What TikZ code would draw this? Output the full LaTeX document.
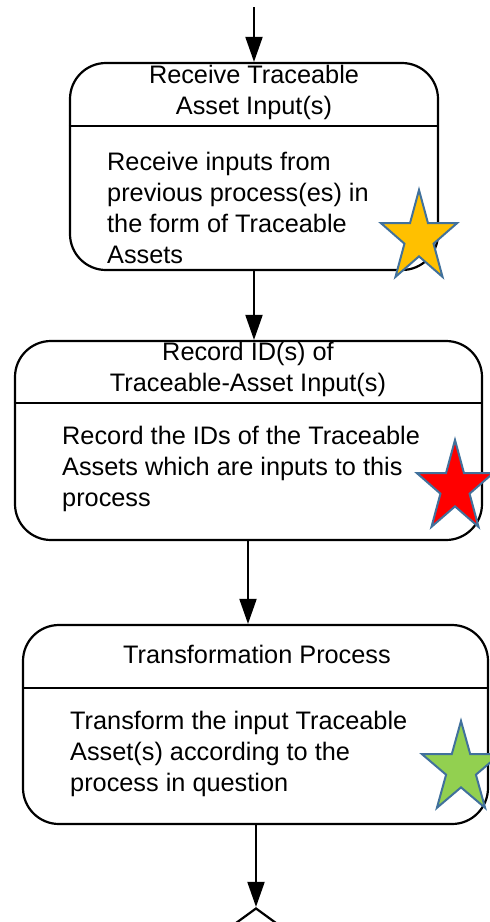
\documentclass[tikz,border=0pt]{standalone}
\usepackage{fontspec}
\setmainfont{Liberation Sans}
\usetikzlibrary{arrows.meta,shapes.geometric}
\definecolor{starblue}{HTML}{41719C}
\definecolor{starorange}{HTML}{FFC000}
\definecolor{starred}{HTML}{FF0000}
\definecolor{stargreen}{HTML}{92D050}
\newcommand\mkstar[4]{% center, rx, ry, fill
  \draw[starline, fill=#4, shift={#1}, xscale=#2/40, yscale=#3/40]
  (90:40) -- (126:15.3) -- (162:40) -- (198:15.3) -- (234:40) -- (270:15.3)
  -- (306:40) -- (342:15.3) -- (18:40) -- (54:15.3) -- cycle;}
\begin{document}
\begin{tikzpicture}[x=1pt,y=1pt,
  procbox/.style={draw, line width=2.2pt, rounded corners=36pt, inner sep=0pt},
  divline/.style={line width=2.2pt},
  titletext/.style={align=center, inner sep=0pt, font=\fontsize{25.3}{31}\selectfont},
  bodytext/.style={align=left, inner sep=0pt, anchor=west, font=\fontsize{25.3}{31}\selectfont},
  arr/.style={line width=2pt, -{Triangle[length=25pt,width=17pt]}},
  starline/.style={draw=starblue, line width=2pt, line join=miter}]
\useasboundingbox (0,0) rectangle (490,-922);
\clip (0,0) rectangle (490,-922);
% box 1
\node[procbox, minimum width=368pt, minimum height=207pt] (b1) at (254,-166.5) {};
\draw[divline] (b1.west |- 0,-126) -- (b1.east |- 0,-126);
\node[titletext] (t1) at (254,-92) {Receive Traceable\\Asset Input(s)};
\node[bodytext] (d1) at (107,-208) {Receive inputs from\\previous process(es) in\\the form of Traceable\\Assets};
% box 2
\node[procbox, minimum width=467pt, minimum height=199pt] (b2) at (248.5,-440.5) {};
\draw[divline] (b2.west |- 0,-403) -- (b2.east |- 0,-403);
\node[titletext] (t2) at (248,-369) {Record ID(s) of\\Traceable-Asset Input(s)};
\node[bodytext] (d2) at (62,-469) {Record the IDs of the Traceable\\Assets which are inputs to this\\process};
% box 3
\node[procbox, minimum width=465pt, minimum height=199pt] (b3) at (255.5,-724.5) {};
\draw[divline] (b3.west |- 0,-688) -- (b3.east |- 0,-688);
\node[titletext] (t3) at (257,-654) {Transformation Process};
\node[bodytext] (d3) at (70,-754) {Transform the input Traceable\\Asset(s) according to the\\process in question};
% diamond
\node[diamond, draw, line width=2.2pt, inner sep=0pt, minimum width=82pt, minimum height=60pt, aspect=1.37] (dia) at (256,-938) {};
% connectors
\coordinate (start) at (254,-7);
\draw[arr] (start) -- (b1.north);
\draw[arr] (b1.south) -- (b1.south |- b2.north);
\draw[arr] (248,0 |- b2.south) -- (248,0 |- b3.north);
\draw[arr] (256,0 |- b3.south) -- (dia.north);
% stars
\mkstar{(419,-238)}{40}{48}{starorange}
\mkstar{(455,-488)}{40}{48}{starred}
\mkstar{(461,-769)}{41}{48}{stargreen}
\end{tikzpicture}
\end{document}
